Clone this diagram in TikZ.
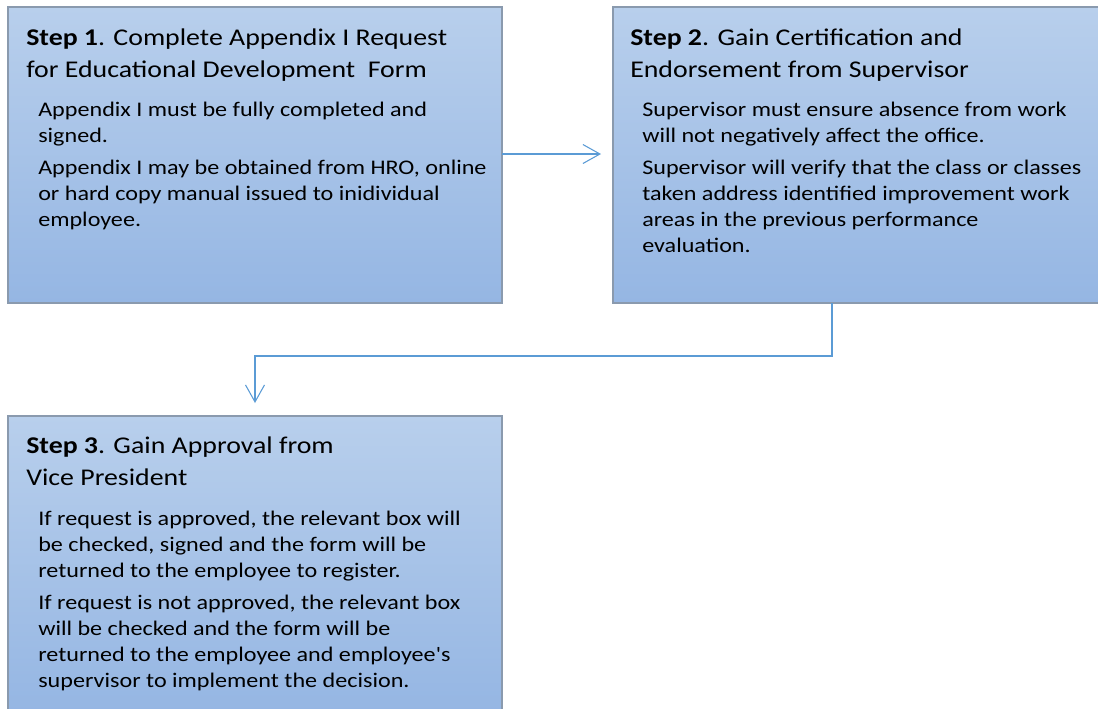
\documentclass[tikz,border=0pt]{standalone}
\usepackage{fontspec}
\setmainfont{Carlito}[FakeStretch=1.16, Ligatures=TeXOff]
\usetikzlibrary{arrows.meta}
\definecolor{boxtop}{RGB}{184,207,236}
\definecolor{boxbot}{RGB}{149,182,227}
\definecolor{boxline}{RGB}{138,154,174}
\definecolor{arrowblue}{RGB}{91,155,213}
\tikzset{
  stepbox/.style={rectangle, inner sep=0pt, outer sep=0pt, anchor=north west,
    top color=boxtop, bottom color=boxbot, draw=boxline, line width=1.5pt,
    minimum width=370.5pt, minimum height=222pt},
  title/.style={anchor=base west, inner sep=0pt, align=left,
    font=\fontsize{18}{24}\selectfont},
  body/.style={anchor=base west, inner sep=0pt, align=left,
    font=\fontsize{15.6}{19.5}\selectfont},
  arr/.style={draw=arrowblue, line width=0.8pt,
    -{Straight Barb[length=12.75pt,width=14.25pt,line width=0.8pt]}}
}
\begin{document}
\begin{tikzpicture}[x=0.75pt,y=-0.75pt]
\useasboundingbox (0,0) rectangle (1098,708);
\clip (0,0) rectangle (1098,708);
\node[stepbox] (b1) at (8,7) {};
\node[stepbox, minimum width=375pt] (b2) at (613,7) {};
\node[stepbox] (b3) at (8,416) {};

\node[title] (t1) at (26,77) {\textbf{Step 1}. Complete Appendix I Request\\for Educational Development\ \ Form};
\node[body] (d1) at (38,226) {Appendix I must be fully completed and\\signed.\\[4pt]Appendix I may be obtained from HRO, online\\or hard copy manual issued to inidividual\\employee.};

\node[title] (t2) at (630,77) {\textbf{Step 2}. Gain Certification and\\Endorsement from Supervisor};
\node[body] (d2) at (642,252) {Supervisor must ensure absence from work\\will not negatively affect the office.\\[4pt]Supervisor will verify that the class or classes\\taken address identified improvement work\\areas in the previous performance\\evaluation.};

\node[title] (t3) at (26,485) {\textbf{Step 3}. Gain Approval from\\Vice President};
\node[body] (d3) at (38,687) {If request is approved, the relevant box will\\be checked, signed and the form will be\\returned to the employee to register.\\[4pt]If request is not approved, the relevant box\\will be checked and the form will be\\returned to the employee and employee's\\supervisor to implement the decision.};

\coordinate (a1) at (0,154);
\coordinate (c2) at (832,0);
\coordinate (c3) at (255,356);
\draw[arr, shorten >=9pt] (b1.east |- a1) -- (b2.west |- a1);
\draw[arr, shorten >=9.75pt] (b2.south -| c2) -- (c2 |- c3) -- (c3) -- (c3 |- b3.north);
\end{tikzpicture}
\end{document}
